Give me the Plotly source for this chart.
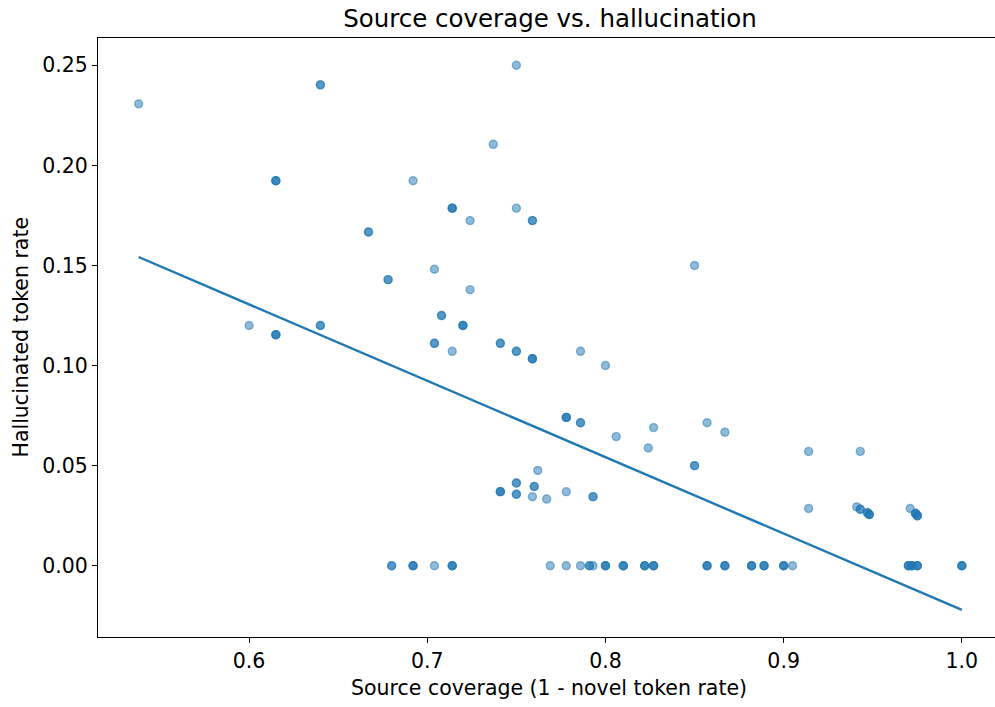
import plotly.graph_objects as go

# Scatter data (source coverage, hallucinated token rate); repeated entries = overlapping points
coverage = [
    0.538, 0.640, 0.640, 0.615, 0.615, 0.615, 0.667, 0.667, 0.678, 0.678,
    0.600, 0.640, 0.640, 0.615, 0.615, 0.615,
    0.750, 0.737, 0.692, 0.714, 0.714, 0.714, 0.724, 0.750, 0.759, 0.759,
    0.704, 0.724, 0.708, 0.708, 0.720, 0.720, 0.720, 0.850,
    0.704, 0.704, 0.714, 0.741, 0.741, 0.750, 0.750, 0.759, 0.759, 0.759,
    0.786, 0.800, 0.778, 0.778, 0.778, 0.786, 0.786, 0.806, 0.827, 0.824,
    0.850, 0.850, 0.762, 0.750, 0.750, 0.760, 0.760, 0.741, 0.741, 0.741,
    0.750, 0.750, 0.759, 0.767, 0.778, 0.793, 0.793,
    0.857, 0.867, 0.914, 0.943, 0.914, 0.941, 0.943, 0.943, 0.947, 0.947,
    0.948, 0.948, 0.948, 0.971, 0.974, 0.974, 0.974, 0.975, 0.975, 0.975,
    # zero row
    0.680, 0.680, 0.692, 0.692, 0.692, 0.704, 0.714, 0.714, 0.714, 0.769,
    0.778, 0.786, 0.791, 0.791, 0.793, 0.800, 0.800, 0.800, 0.810, 0.810,
    0.810, 0.822, 0.822, 0.822, 0.827, 0.827, 0.827, 0.857, 0.857, 0.857,
    0.867, 0.867, 0.867, 0.882, 0.882, 0.882, 0.889, 0.889, 0.889, 0.900,
    0.900, 0.900, 0.905, 0.970, 0.970, 0.970, 0.972, 0.972, 0.972, 0.975,
    0.975, 0.975, 1.000, 1.000, 1.000,
]
halluc_rate = [
    0.2307, 0.2402, 0.2402, 0.1923, 0.1923, 0.1923, 0.1667, 0.1667, 0.1429, 0.1429,
    0.1200, 0.1200, 0.1200, 0.1154, 0.1154, 0.1154,
    0.2500, 0.2105, 0.1923, 0.1786, 0.1786, 0.1786, 0.1724, 0.1786, 0.1724, 0.1724,
    0.1481, 0.1379, 0.1250, 0.1250, 0.1200, 0.1200, 0.1200, 0.1500,
    0.1111, 0.1111, 0.1071, 0.1111, 0.1111, 0.1071, 0.1071, 0.1034, 0.1034, 0.1034,
    0.1071, 0.1000, 0.0741, 0.0741, 0.0741, 0.0714, 0.0714, 0.0645, 0.0690, 0.0588,
    0.0500, 0.0500, 0.0476, 0.0413, 0.0413, 0.0396, 0.0396, 0.0370, 0.0370, 0.0370,
    0.0357, 0.0357, 0.0345, 0.0333, 0.0370, 0.0345, 0.0345,
    0.0714, 0.0667, 0.0571, 0.0571, 0.0286, 0.0294, 0.0282, 0.0282, 0.0265, 0.0265,
    0.0256, 0.0256, 0.0256, 0.0286, 0.0261, 0.0261, 0.0261, 0.0250, 0.0250, 0.0250,
    0, 0, 0, 0, 0, 0, 0, 0, 0, 0,
    0, 0, 0, 0, 0, 0, 0, 0, 0, 0,
    0, 0, 0, 0, 0, 0, 0, 0, 0, 0,
    0, 0, 0, 0, 0, 0, 0, 0, 0, 0,
    0, 0, 0, 0, 0, 0, 0, 0, 0, 0,
    0, 0, 0, 0, 0,
]

# Linear fit line endpoints
fit_x = [0.538, 1.0]
fit_y = [0.1542, -0.0221]

x_ticks = [0.6, 0.7, 0.8, 0.9, 1.0]
x_tick_labels = ["0.6", "0.7", "0.8", "0.9", "1.0"]
y_ticks = [0.0, 0.05, 0.10, 0.15, 0.20, 0.25]
y_tick_labels = ["0.00", "0.05", "0.10", "0.15", "0.20", "0.25"]

BLUE = "rgba(31,119,180,0.5)"
FONT = "DejaVu Sans"
TICK_SIZE = 20.5
TITLE_SIZE = 24.5

W, H = 995, 707

fig = go.Figure()
fig.add_trace(go.Scatter(
    x=coverage, y=halluc_rate, mode="markers",
    marker=dict(size=8, color=BLUE, line=dict(color=BLUE, width=1.4)),
    showlegend=False, hoverinfo="x+y",
))
fig.add_trace(go.Scatter(
    x=fit_x, y=fit_y, mode="lines",
    line=dict(color="#1f77b4", width=2.4),
    showlegend=False,
))

fig.update_layout(
    width=W, height=H,
    margin=dict(l=98, r=0, t=38, b=70, autoexpand=False),
    paper_bgcolor="white", plot_bgcolor="white",
    font=dict(family=FONT, size=TICK_SIZE, color="black"),
    title=dict(text="Source coverage vs. hallucination", xref="container", yref="container",
               x=550 / W, y=1 - 18 / H, xanchor="center", yanchor="middle",
               font=dict(family=FONT, size=TITLE_SIZE, color="black")),
    annotations=[
        dict(text="Source coverage (1 - novel token rate)", xref="paper", yref="paper",
             x=(549 - 98) / 897, y=-(688 - 637) / 599, xanchor="center", yanchor="middle",
             showarrow=False, font=dict(family=FONT, size=TICK_SIZE, color="black")),
        dict(text="Hallucinated token rate", xref="paper", yref="paper",
             x=-(98 - 20) / 897, y=0.5, xanchor="center", yanchor="middle", textangle=-90,
             showarrow=False, font=dict(family=FONT, size=TICK_SIZE, color="black")),
    ],
)
fig.update_xaxes(
    range=[0.5152, 1.0186], tickvals=x_ticks, ticktext=x_tick_labels, automargin=False,
    showgrid=False, zeroline=False, showline=True, linecolor="black", linewidth=1.2,
    mirror=True, ticks="outside", ticklen=5, tickwidth=1.1, tickcolor="black",
    tickfont=dict(family=FONT, size=TICK_SIZE, color="black"),
)
fig.update_yaxes(
    range=[-0.0356, 0.2636], tickvals=y_ticks, ticktext=y_tick_labels, automargin=False,
    showgrid=False, zeroline=False, showline=True, linecolor="black", linewidth=1.2,
    mirror=False, ticks="outside", ticklen=5, tickwidth=1.1, tickcolor="black",
    tickfont=dict(family=FONT, size=TICK_SIZE, color="black"),
)

# Remove the browser's default 8px body margin so the figure sits at the page's top-left corner.
fig.write_html("out.html",
               config={"displayModeBar": False},
               post_script="document.body.style.margin='0';document.body.style.overflow='hidden';")
